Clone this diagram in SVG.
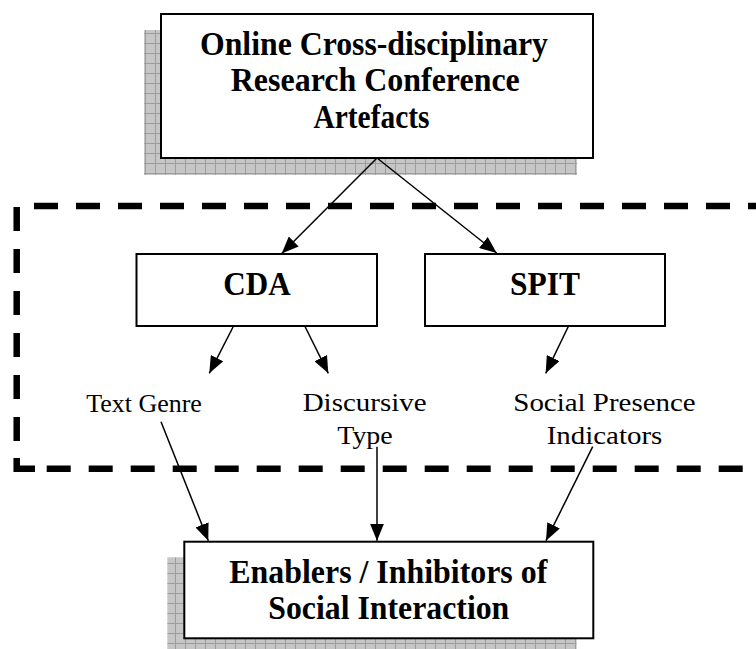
<svg xmlns="http://www.w3.org/2000/svg" width="756" height="649" viewBox="0 0 756 649">
<style>
.box{fill:#fff;stroke:#000;stroke-width:2}
.shadow{fill:url(#grid)}
.bt{font-family:"Liberation Serif","Times New Roman",serif;font-weight:bold;font-size:34px;text-anchor:middle;fill:#000}
.rt{font-family:"Liberation Serif","Times New Roman",serif;font-size:26px;text-anchor:middle;fill:#000}
.dash{stroke:#000;stroke-width:6.5;fill:none;stroke-dasharray:24 18}
.conn line{stroke:#000;stroke-width:1.5;marker-end:url(#ah)}
</style>
<defs>
<pattern id="grid" patternUnits="userSpaceOnUse" x="5" y="3" width="10" height="10">
<rect width="10" height="10" fill="#c6c6c6"/>
<path d="M0,0.5H10M0.5,0V10" stroke="#9c9c9c" stroke-width="1"/>
</pattern>
<marker id="ah" markerUnits="userSpaceOnUse" viewBox="0 0 17 14" refX="17" refY="7" markerWidth="17" markerHeight="14" orient="auto">
<path d="M0,0L17,7L0,14z" fill="#000"/>
</marker>
</defs>
<rect width="756" height="649" fill="#fff"/>
<g id="region">
<line class="dash" x1="34" y1="206" x2="760" y2="206"/>
<line class="dash" x1="16.7" y1="207" x2="16.7" y2="455"/>
<path d="M16.7,458V468.7H35" stroke="#000" stroke-width="6.5" fill="none"/>
<line class="dash" x1="46.7" y1="468.7" x2="760" y2="468.7"/>
</g>
<g id="top">
<rect class="shadow" x="144" y="30" width="433" height="145"/>
<rect class="box" x="161" y="14" width="432" height="144"/>
<text class="bt" x="374" y="55" textLength="348" lengthAdjust="spacingAndGlyphs">Online Cross-disciplinary</text>
<text class="bt" x="375.3" y="91" textLength="289" lengthAdjust="spacingAndGlyphs">Research Conference</text>
<text class="bt" x="371.5" y="128" textLength="116" lengthAdjust="spacingAndGlyphs">Artefacts</text>
</g>
<g id="cda">
<rect class="box" x="136.5" y="254" width="240.5" height="72"/>
<text class="bt" x="257" y="295" textLength="67.5" lengthAdjust="spacingAndGlyphs">CDA</text>
</g>
<g id="spit">
<rect class="box" x="425" y="254" width="240" height="72"/>
<text class="bt" x="545" y="295" textLength="70" lengthAdjust="spacingAndGlyphs">SPIT</text>
</g>
<g id="textgenre">
<text class="rt" x="144" y="411.5" textLength="115.7" lengthAdjust="spacingAndGlyphs">Text Genre</text>
</g>
<g id="discursive">
<text class="rt" x="364.7" y="411" textLength="124" lengthAdjust="spacingAndGlyphs">Discursive</text>
<text class="rt" x="365" y="444.3" textLength="55.5" lengthAdjust="spacingAndGlyphs">Type</text>
</g>
<g id="social">
<text class="rt" x="604.5" y="410.5" textLength="182.4" lengthAdjust="spacingAndGlyphs">Social Presence</text>
<text class="rt" x="604.5" y="444.3" textLength="115.6" lengthAdjust="spacingAndGlyphs">Indicators</text>
</g>
<g id="bottom">
<rect class="shadow" x="167.3" y="557.3" width="409.4" height="92"/>
<rect class="box" x="184.3" y="541.7" width="409" height="96.6"/>
<text class="bt" x="388.3" y="583.3" textLength="318" lengthAdjust="spacingAndGlyphs">Enablers / Inhibitors of</text>
<text class="bt" x="388.8" y="619.3" textLength="241" lengthAdjust="spacingAndGlyphs">Social Interaction</text>
</g>
<g id="connectors" class="conn">
<line x1="377" y1="158" x2="281.7" y2="253.5"/>
<line x1="377" y1="158" x2="496.7" y2="253"/>
<line x1="233.3" y1="326.5" x2="209.3" y2="373.3"/>
<line x1="305" y1="326.5" x2="328.3" y2="373.3"/>
<line x1="568.3" y1="326.5" x2="545.7" y2="373.3"/>
<line x1="161" y1="421.7" x2="208.3" y2="540.7"/>
<line x1="377" y1="446.7" x2="377" y2="540.7"/>
<line x1="592.7" y1="446.7" x2="546" y2="540.7"/>
</g>
</svg>
